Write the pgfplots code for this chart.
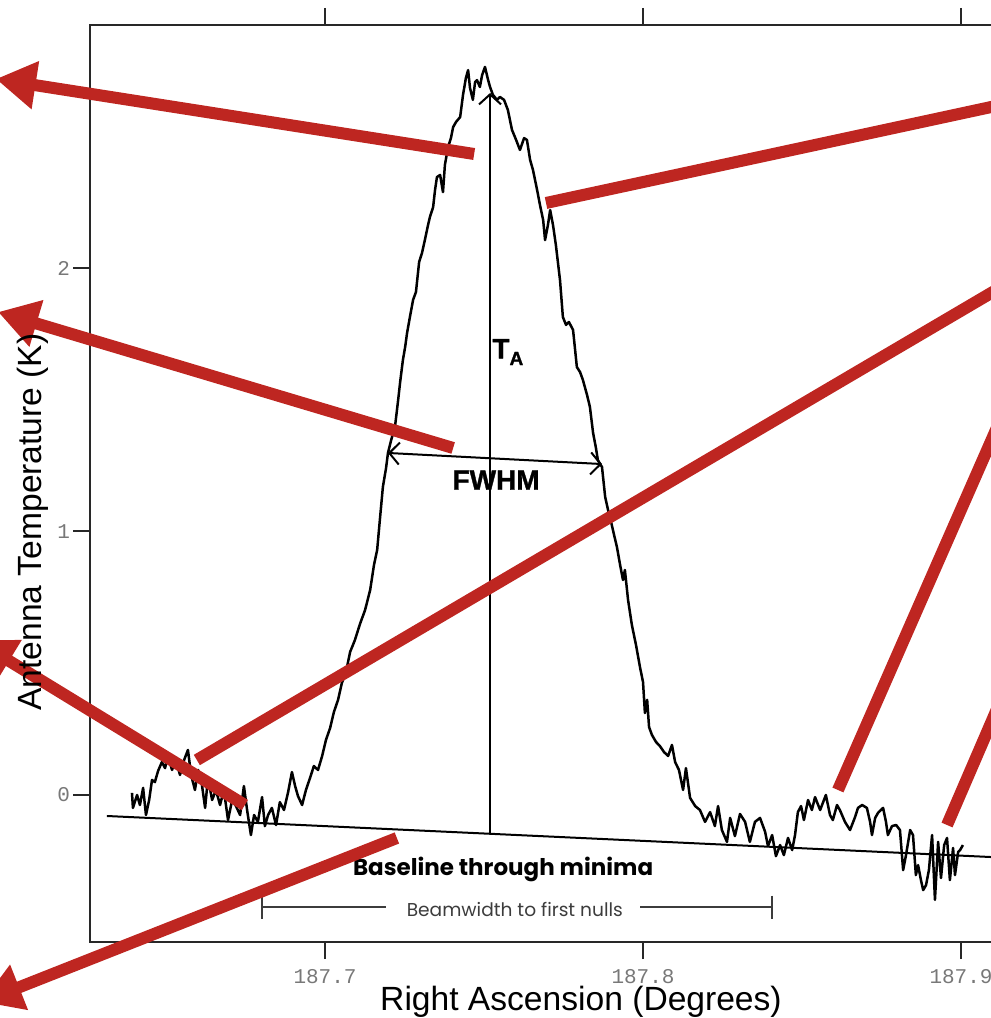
\documentclass[border=0pt]{standalone}
\usepackage{fontspec}
\setmainfont{Liberation Sans}
\newfontfamily\monofont{Liberation Mono}
\newfontfamily\popfont{Poppins}
\newfontfamily\annfont[FakeBold=1.2]{Liberation Sans}
\usepackage{pgfplots}
\pgfplotsset{compat=1.18}
\usetikzlibrary{arrows.meta}
\definecolor{annred}{RGB}{190,38,33}
\definecolor{axgray}{RGB}{40,40,40}
\definecolor{tickgray}{RGB}{120,120,120}
\definecolor{brgray}{RGB}{60,60,60}

\pgfplotstableread{
x y
187.6393 0.008
187.6396 -0.049
187.6409 0.000
187.6418 -0.038
187.6428 0.027
187.6437 -0.076
187.6447 -0.019
187.6456 0.057
187.6465 0.049
187.6475 0.091
187.6487 0.125
187.6497 0.102
187.6506 0.148
187.6519 0.095
187.6531 0.133
187.6544 0.076
187.6557 0.133
187.6569 0.171
187.6579 0.076
187.6591 0.019
187.6601 0.095
187.6613 0.038
187.6623 -0.049
187.6632 0.065
187.6645 -0.019
187.6657 0.019
187.6670 -0.038
187.6682 0.019
187.6695 -0.095
187.6708 -0.019
187.6720 -0.042
187.6733 -0.076
187.6745 0.034
187.6755 -0.057
187.6767 -0.152
187.6777 -0.076
187.6789 -0.102
187.6802 -0.008
187.6811 -0.118
187.6821 -0.076
187.6833 -0.049
187.6846 -0.114
187.6858 -0.027
187.6871 -0.057
187.6884 0.011
187.6896 0.087
187.6906 0.034
187.6915 -0.004
187.6928 -0.038
187.6940 0.019
187.6953 0.065
187.6965 0.110
187.6978 0.095
187.6991 0.148
187.7003 0.209
187.7016 0.254
187.7028 0.315
187.7041 0.361
187.7053 0.425
187.7066 0.467
187.7079 0.543
187.7094 0.588
187.7110 0.649
187.7126 0.702
187.7142 0.778
187.7154 0.873
187.7164 0.930
187.7173 1.051
187.7182 1.169
187.7192 1.241
187.7198 1.298
187.7208 1.347
187.7220 1.397
187.7230 1.499
187.7236 1.564
187.7245 1.651
187.7252 1.700
187.7258 1.753
187.7267 1.814
187.7277 1.879
187.7286 1.909
187.7296 2.023
187.7305 2.057
187.7314 2.106
187.7324 2.163
187.7330 2.194
187.7340 2.231
187.7346 2.296
187.7352 2.345
187.7362 2.353
187.7371 2.288
187.7377 2.391
187.7387 2.459
187.7396 2.493
187.7403 2.535
187.7412 2.554
187.7425 2.573
187.7434 2.657
187.7443 2.721
187.7450 2.751
187.7456 2.683
187.7465 2.638
187.7472 2.706
187.7478 2.713
187.7487 2.687
187.7494 2.732
187.7503 2.763
187.7513 2.713
187.7519 2.687
187.7528 2.657
187.7541 2.638
187.7550 2.649
187.7563 2.638
187.7575 2.600
187.7588 2.524
187.7601 2.486
187.7613 2.448
187.7626 2.493
187.7635 2.486
187.7645 2.410
187.7654 2.372
187.7667 2.296
187.7676 2.239
187.7686 2.182
187.7692 2.106
187.7701 2.163
187.7708 2.220
187.7717 2.163
187.7726 2.087
187.7739 1.954
187.7748 1.814
187.7758 1.784
187.7767 1.795
187.7780 1.765
187.7792 1.624
187.7802 1.605
187.7811 1.575
187.7824 1.518
187.7833 1.473
187.7843 1.374
187.7852 1.317
187.7858 1.271
187.7865 1.256
187.7871 1.245
187.7881 1.131
187.7890 1.082
187.7896 1.055
187.7909 0.987
187.7918 0.941
187.7928 0.873
187.7937 0.816
187.7943 0.854
187.7953 0.740
187.7965 0.645
187.7978 0.569
187.7991 0.482
187.8000 0.429
187.8006 0.311
187.8013 0.361
187.8019 0.258
187.8028 0.228
187.8041 0.201
187.8053 0.186
187.8066 0.163
187.8079 0.148
187.8091 0.190
187.8101 0.125
187.8113 0.095
187.8126 0.019
187.8135 0.102
187.8148 -0.011
187.8164 -0.042
187.8179 -0.057
187.8195 -0.102
187.8211 -0.065
187.8226 -0.118
187.8236 -0.042
187.8248 -0.133
187.8264 -0.178
187.8274 -0.087
187.8289 -0.156
187.8305 -0.072
187.8321 -0.102
187.8336 -0.178
187.8352 -0.102
187.8368 -0.087
187.8384 -0.140
187.8393 -0.194
187.8406 -0.152
187.8418 -0.232
187.8431 -0.190
187.8443 -0.228
187.8456 -0.163
187.8469 -0.209
187.8478 -0.152
187.8487 -0.065
187.8497 -0.042
187.8506 -0.095
187.8519 -0.019
187.8531 -0.057
187.8541 -0.008
187.8557 -0.057
187.8575 0.000
187.8588 -0.076
187.8597 -0.095
187.8610 -0.038
187.8619 -0.057
187.8635 -0.102
187.8651 -0.133
187.8667 -0.083
187.8676 -0.049
187.8689 -0.038
187.8704 -0.049
187.8714 -0.102
187.8720 -0.152
187.8730 -0.087
187.8739 -0.068
187.8755 -0.049
187.8764 -0.102
187.8770 -0.152
187.8783 -0.118
187.8796 -0.114
187.8808 -0.133
187.8818 -0.285
187.8827 -0.228
187.8840 -0.133
187.8849 -0.152
187.8858 -0.304
187.8865 -0.266
187.8874 -0.323
187.8881 -0.361
187.8890 -0.342
187.8899 -0.285
187.8909 -0.152
187.8918 -0.398
187.8928 -0.178
187.8937 -0.315
187.8947 -0.190
187.8956 -0.163
187.8965 -0.323
187.8975 -0.201
187.8981 -0.304
187.8991 -0.216
187.8997 -0.209
187.9006 -0.190
}\scan

\begin{document}
\begin{tikzpicture}
\begin{axis}[
  scale only axis, width=491pt, height=458.5pt,
  xmin=187.6261, xmax=187.9349, ymin=-0.5579, ymax=2.9222,
  clip=false,
  axis line style={axgray, line width=1pt},
  tick style={axgray, line width=1pt},
  tick align=outside,
  major tick length=8.5pt,
  xtick={187.7,187.8,187.9}, xticklabels={187.7,187.8,187.9},
  ytick={0,1,2}, yticklabels={0,1,2},
  ytick pos=left, xtick pos=both, xticklabel pos=bottom,
  minor tick num=0,
  ticklabel style={font=\monofont\fontsize{10.5}{12}\selectfont, text=tickgray},
  xticklabel style={yshift=-1.5pt},
  yticklabel style={xshift=2pt},
  xlabel={Right Ascension (Degrees)},
  ylabel={Antenna Temperature (K)},
  xlabel style={font=\fontsize{16.8}{20}\selectfont, at={(axis description cs:0.5,-0.0655)}, anchor=center},
  ylabel style={font=\fontsize{16.8}{20}\selectfont, at={(axis description cs:-0.058,0.458)}, anchor=center},
]
% data
\addplot[black, line width=1.25pt, line join=round, mark=none] table[x=x,y=y] {\scan};
% baseline through minima
\addplot[black, line width=1pt, mark=none] coordinates {(187.6314,-0.0797) (187.9349,-0.2497)};
% T_A line
\addplot[black, line width=1pt, mark=none, -{Straight Barb[length=5pt,width=11pt]}] coordinates {(187.7519,-0.147) (187.7519,2.664)};
% FWHM
\addplot[black, line width=1pt, mark=none, {Straight Barb[length=5pt,width=11pt]}-{Straight Barb[length=5pt,width=11pt]}] coordinates {(187.7198,1.298) (187.7871,1.256)};
% beamwidth bracket
\addplot[brgray, line width=0.8pt, mark=none] coordinates {(187.6802,-0.425) (187.7192,-0.425)};
\addplot[brgray, line width=0.8pt, mark=none] coordinates {(187.7991,-0.425) (187.8406,-0.425)};
\addplot[brgray, line width=0.8pt, mark=none] coordinates {(187.6802,-0.382) (187.6802,-0.470)};
\addplot[brgray, line width=0.8pt, mark=none] coordinates {(187.8406,-0.382) (187.8406,-0.470)};
% texts
\node[font=\annfont\bfseries\fontsize{14}{16}\selectfont, anchor=center] at (187.7575,1.681) {T\raisebox{-0.45ex}{\fontsize{9.5}{10}\selectfont A}};
\node[font=\annfont\bfseries\fontsize{14}{16}\selectfont, anchor=center] at (187.7538,1.195) {FWHM};
\node[font=\popfont\bfseries\fontsize{11.5}{13}\selectfont, anchor=center] at (187.7560,-0.281) {Baseline through minima};
\node[font=\popfont\fontsize{9.3}{11}\selectfont, text=brgray, anchor=center] at (187.7597,-0.433) {Beamwidth to first nulls};
% red annotation arrows
\addplot[annred, line width=6pt, mark=none, -{Triangle[length=20pt,width=23pt]}] coordinates {(187.7469,2.4326) (187.5965,2.7173)};
\addplot[annred, line width=6pt, mark=none, -{Triangle[length=20pt,width=23pt]}] coordinates {(187.7403,1.3169) (187.5972,1.8330)};
\addplot[annred, line width=6pt, mark=none, -{Triangle[length=20pt,width=23pt]}] coordinates {(187.6748,-0.0380) (187.5899,0.5882)};
\addplot[annred, line width=6pt, mark=none, -{Triangle[length=20pt,width=23pt]}] coordinates {(187.7226,-0.1632) (187.5921,-0.7856)};
\addplot[annred, line width=6pt, mark=none] coordinates {(187.7695,2.2467) (187.9437,2.700)};
\addplot[annred, line width=6pt, mark=none] coordinates {(187.6597,0.1328) (187.9437,2.148)};
\addplot[annred, line width=6pt, mark=none] coordinates {(187.8613,0.019) (187.9437,2.285)};
\addplot[annred, line width=6pt, mark=none] coordinates {(187.8956,-0.1139) (187.9437,1.233)};
\end{axis}
\pgfresetboundingbox
\useasboundingbox (-45pt,-38pt) rectangle (450.5pt,471pt);
\end{tikzpicture}
\end{document}
